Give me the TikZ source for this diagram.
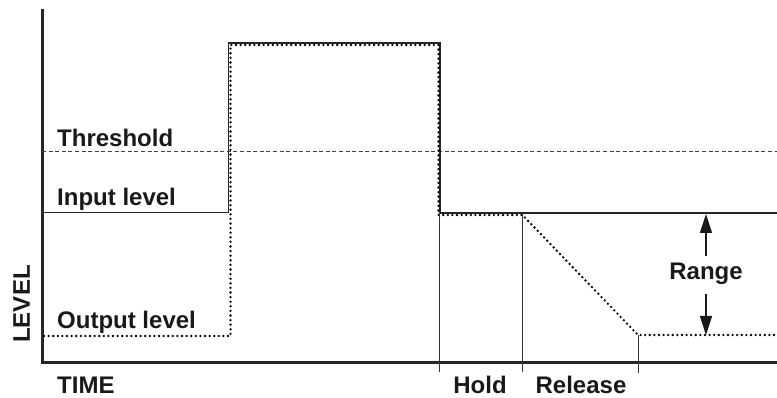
\documentclass[tikz,border=0pt]{standalone}
\usepackage{fontspec}
\setmainfont{Liberation Sans}
\usetikzlibrary{arrows.meta}
\begin{document}
\begin{tikzpicture}[x=1pt,y=-1pt,
  lbl/.style={font=\fontsize{24}{28}\selectfont\bfseries, inner sep=0pt, text=black!90},
  axisline/.style={line width=3pt, black!85},
  inputline/.style={line width=1.8pt, black!85},
  outline/.style={line width=2.6pt, black, dash pattern=on 0pt off 4.6pt, line cap=round},
  thresh/.style={line width=1pt, black!75, dash pattern=on 4pt off 2.6pt},
  tick/.style={line width=0.8pt, black!80},
  rarrow/.style={line width=1.3pt, black!90, -{Triangle[width=12pt,length=19pt]}}
]
\useasboundingbox (0,0) rectangle (777,398);
% axes
\coordinate (ytop) at (42,9.5);
\coordinate (orig) at (42,362);
\coordinate (xend) at (777,362);
\draw[axisline] (ytop) -- (orig) -- (xend);
% threshold
\coordinate (th0) at (42,152);
\coordinate (th1) at (777,152);
\draw[thresh] (th0) -- (th1);
% input level (solid)
\coordinate (i0) at (42,212.5);
\coordinate (i1) at (228.5,212.5);
\coordinate (i2) at (228.5,43);
\coordinate (i3) at (440,43);
\coordinate (i4) at (440,213);
\coordinate (i5) at (777,213);
\draw[inputline] (i0) -- (i1) -- (i2) -- (i3) -- (i4) -- (i5);
% output level (dotted)
\coordinate (o0) at (44,336);
\coordinate (o1) at (230.5,336);
\coordinate (o2) at (230.5,45);
\coordinate (o3) at (438.5,45);
\coordinate (o4) at (438.5,215);
\coordinate (o5) at (522.5,215);
\coordinate (o6) at (638,335);
\coordinate (o7) at (777,335);
\draw[outline] (o0) -- (o1) -- (o2) -- (o3) -- (o4) -- (o5) -- (o6) -- (o7);
% time marks
\coordinate (h0) at (439,213);
\coordinate (h1) at (439,372);
\coordinate (r0) at (522.5,213);
\coordinate (r1) at (522.5,372);
\coordinate (e0) at (638,335);
\coordinate (e1) at (638,373);
\draw[tick] (h0) -- (h1);
\draw[tick] (r0) -- (r1);
\draw[tick] (e0) -- (e1);
% labels
\node[lbl, anchor=base west] (thl) at (57,146.5) {Threshold};
\node[lbl, anchor=base west] (inl) at (57,205.5) {Input level};
\node[lbl, anchor=base west] (outl) at (57,328) {Output level};
\node[lbl, anchor=base west] (time) at (57,393.5) {TIME};
\node[lbl, anchor=base] (hold) at (480,393.5) {Hold};
\node[lbl, anchor=base] (rel) at (581,393.5) {Release};
\node[lbl, rotate=90, anchor=base] (level) at (30,304) {LEVEL};
\node[lbl] (range) at (706,274) {Range};
% range arrows
\coordinate (ra) at (706,214);
\coordinate (rb) at (706,335);
\draw[rarrow] (706,256) -- (ra);
\draw[rarrow] (706,294) -- (rb);
\end{tikzpicture}
\end{document}
